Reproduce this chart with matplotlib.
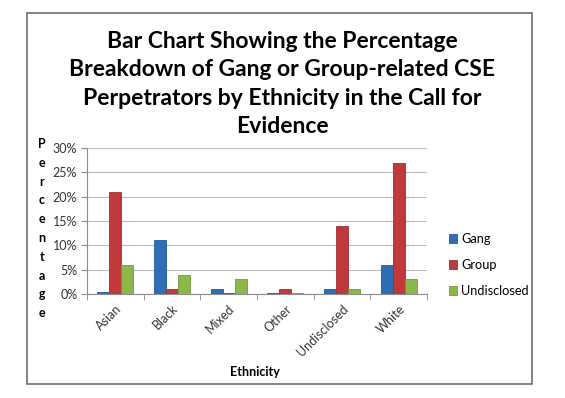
import numpy as np
import matplotlib.pyplot as plt
from matplotlib.patches import Rectangle

# datos
ethnicity = ['Asian', 'Black', 'Mixed', 'Other', 'Undisclosed', 'White']
gang = [0.5, 11, 1, 0.2, 1, 6]
group = [21, 1, 0.2, 1, 14, 27]
undisclosed = [6, 4, 3, 0.3, 1, 3]
series_names = ['Gang', 'Group', 'Undisclosed']
colors = ['#2E6EB4', '#C0393B', '#8DB849']
edges = ['#245A94', '#9E2E30', '#72983A']

plt.rcParams['font.family'] = ['Lato', 'DejaVu Sans']

fig = plt.figure(figsize=(5.65, 3.98), dpi=100)
W, H = 565, 398

# marco exterior
fig.patches.append(Rectangle((27 / W, 1 - 384 / H), (532 - 27) / W, (384 - 13) / H,
                             transform=fig.transFigure, fill=False,
                             edgecolor='#6E6E6E', linewidth=1.2))

ax = fig.add_axes([87 / W, 1 - 294 / H, (427 - 87) / W, (294 - 148) / H])

x = np.arange(len(ethnicity))
bw = 0.21
for k, (vals, name) in enumerate(zip([gang, group, undisclosed], series_names)):
    ax.bar(x + (k - 1) * bw, vals, bw, color=colors[k], edgecolor=edges[k],
           linewidth=0.6, label=name, zorder=3)

ax.set_xlim(-0.5, len(ethnicity) - 0.5)
ax.set_ylim(0, 30)
ax.set_yticks(np.arange(0, 31, 5))
ax.set_yticklabels(['%d%%' % v for v in range(0, 31, 5)], fontsize=9, color='#333333')
ax.yaxis.grid(True, color='#BDBDBD', linewidth=0.8, zorder=0)
ax.set_xticks(x)
ax.set_xticklabels(ethnicity, rotation=45, ha='right', rotation_mode='anchor',
                   fontsize=9, color='#333333')
ax.tick_params(axis='x', length=0, pad=6)
ax.set_xticks(np.arange(-0.5, len(ethnicity), 1), minor=True)
ax.tick_params(axis='x', which='minor', length=4, color='#8C8C8C')
ax.tick_params(axis='y', length=4, color='#8C8C8C', pad=3)
for s in ['top', 'right']:
    ax.spines[s].set_visible(False)
for s in ['left', 'bottom']:
    ax.spines[s].set_color('#8C8C8C')

# etiqueta vertical letra por letra
for i, ch in enumerate('Percentage'):
    fig.text(42 / W, 1 - (144 + i * 18.8) / H, ch, fontsize=9, fontweight='bold',
             ha='center', va='center')

fig.text(255 / W, 1 - 372 / H, 'Ethnicity', fontsize=9, fontweight='bold',
         ha='center', va='center')

title = ('Bar Chart Showing the Percentage\nBreakdown of Gang or Group-related CSE\n'
         'Perpetrators by Ethnicity in the Call for\nEvidence')
fig.text(282 / W, 1 - 84 / H, title, fontsize=16.5, fontweight='bold', ha='center',
         va='center', linespacing=1.42)

ax.legend(loc='center left', bbox_to_anchor=(437 / W, 1 - 265 / H),
          bbox_transform=fig.transFigure, frameon=False, fontsize=9.2,
          handlelength=0.7, handleheight=0.7, handletextpad=0.3, labelspacing=1.1)

fig.savefig('out.png', dpi=100)
